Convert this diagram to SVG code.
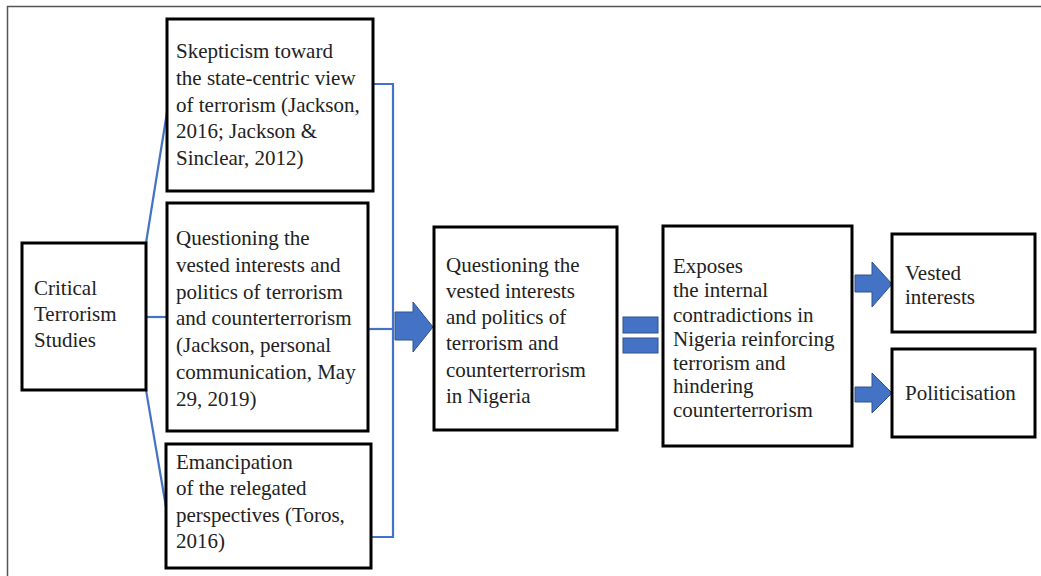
<svg xmlns="http://www.w3.org/2000/svg" width="1041" height="576" viewBox="0 0 1041 576">
<style>
.box{fill:#fff;stroke:#000;stroke-width:3}
.t{font-family:"Liberation Serif","Times New Roman",serif;font-size:21px;fill:#222}
.ln{fill:none;stroke:#4472C4;stroke-width:2.2}
.ar{fill:#4472C4;stroke:#2F528F;stroke-width:1}
</style>
<rect width="1041" height="576" fill="#fff"/>
<path d="M7.5,576 V6.5 H1041" fill="none" stroke="#555" stroke-width="1.5"/>
<g id="connectors">
<path class="ln" d="M146,243 L168,106"/>
<path class="ln" d="M146,317 L168,317"/>
<path class="ln" d="M146,390 L166,507"/>
<path class="ln" d="M373,84 H393 V537 H371"/>
<path class="ln" d="M368,329 H393"/>
<path class="ar" d="M395,312 H413 V302 L433,327 L413,352 V340 H395 Z"/>
<rect class="ar" x="623" y="317" width="35" height="16"/>
<rect class="ar" x="623" y="338" width="35" height="15"/>
<path class="ar" d="M855,275 H872 V262 L892,284 L872,307 V292 H855 Z"/>
<path class="ar" d="M855,387 H872 V373 L892,393 L872,413 V402 H855 Z"/>
</g>
<g id="critical">
<rect class="box" x="22" y="243" width="124" height="147"/>
<text class="t" x="34" y="295">Critical</text>
<text class="t" x="34" y="321">Terrorism</text>
<text class="t" x="34" y="347">Studies</text>
</g>
<g id="skepticism">
<rect class="box" x="167" y="19" width="206" height="172"/>
<text class="t" x="176" y="58">Skepticism toward</text>
<text class="t" x="176" y="85">the state-centric view</text>
<text class="t" x="176" y="111.5">of terrorism (Jackson,</text>
<text class="t" x="176" y="138">2016; Jackson &amp;</text>
<text class="t" x="176" y="165">Sinclear, 2012)</text>
</g>
<g id="questioning">
<rect class="box" x="167" y="203" width="201" height="228"/>
<text class="t" x="176" y="245">Questioning the</text>
<text class="t" x="176" y="272">vested interests and</text>
<text class="t" x="176" y="298.5">politics of terrorism</text>
<text class="t" x="176" y="325">and counterterrorism</text>
<text class="t" x="176" y="352">(Jackson, personal</text>
<text class="t" x="176" y="379">communication, May</text>
<text class="t" x="176" y="406">29, 2019)</text>
</g>
<g id="emancipation">
<rect class="box" x="166" y="444" width="205" height="124"/>
<text class="t" x="176" y="468.5">Emancipation</text>
<text class="t" x="176" y="495">of the relegated</text>
<text class="t" x="176" y="521.5">perspectives (Toros,</text>
<text class="t" x="176" y="548">2016)</text>
</g>
<g id="nigeria">
<rect class="box" x="434" y="227" width="183" height="203"/>
<text class="t" x="446" y="272">Questioning the</text>
<text class="t" x="446" y="298">vested interests</text>
<text class="t" x="446" y="324">and politics of</text>
<text class="t" x="446" y="350">terrorism and</text>
<text class="t" x="446" y="376.5">counterterrorism</text>
<text class="t" x="446" y="403">in Nigeria</text>
</g>
<g id="exposes">
<rect class="box" x="663" y="226" width="189" height="220"/>
<text class="t" x="673" y="273">Exposes</text>
<text class="t" x="673" y="297">the internal</text>
<text class="t" x="673" y="321.5">contradictions in</text>
<text class="t" x="673" y="345.5">Nigeria reinforcing</text>
<text class="t" x="673" y="369.5">terrorism and</text>
<text class="t" x="673" y="393">hindering</text>
<text class="t" x="673" y="417">counterterrorism</text>
</g>
<g id="vested">
<rect class="box" x="892" y="234" width="143" height="98"/>
<text class="t" x="905" y="280">Vested</text>
<text class="t" x="905" y="303.5">interests</text>
</g>
<g id="politicisation">
<rect class="box" x="892" y="349" width="143" height="88"/>
<text class="t" x="905" y="400">Politicisation</text>
</g>
</svg>
